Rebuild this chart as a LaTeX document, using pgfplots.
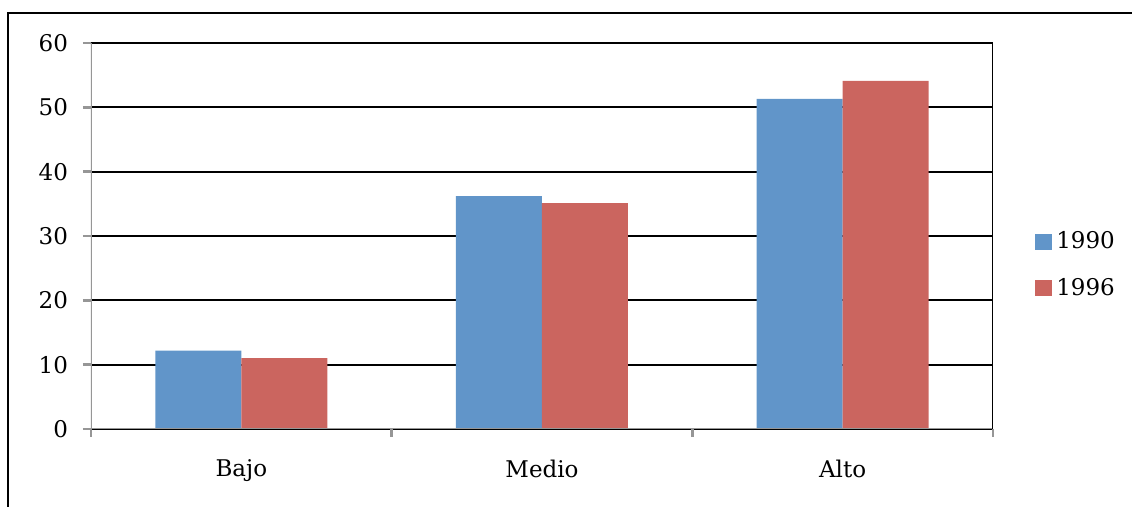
\documentclass[border=0pt]{standalone}
\usepackage{pgfplots}
\pgfplotsset{compat=1.18}
\usepackage{fontspec}
\setmainfont{DejaVu Serif}
\definecolor{c1990}{RGB}{97,149,201}
\definecolor{c1996}{RGB}{203,101,95}
\definecolor{axgray}{RGB}{150,150,150}
\begin{document}
\begin{tikzpicture}
\useasboundingbox (0,0) rectangle (566pt,253.5pt);
\draw[line width=1.2pt] (4pt,0) -- (4pt,247pt) -- (566pt,247pt);
\begin{axis}[
    at={(45.5pt,39pt)}, anchor=south west,
    scale only axis, width=451pt, height=193pt,
    ybar=0pt, bar width=43pt,
    xmin=-0.5, xmax=2.5, ymin=0, ymax=60,
    xtick={0,1,2}, xticklabels={Bajo,Medio,Alto},
    xtick style={draw=none},
    extra x ticks={-0.5,0.5,1.5,2.5},
    extra x tick labels={},
    extra x tick style={xtick style={draw=axgray, line width=1.2pt}, grid=none},
    ytick={0,10,...,60},
    ytick style={draw=axgray, line width=1.2pt},
    xtick pos=bottom, ytick pos=left,
    major tick length=4pt,
    tick align=outside,
    ymajorgrids, major grid style={black, line width=1pt},
    axis line style={draw=none},
    /pgf/number format/assume math mode=true,
    tick label style={font=\fontsize{11.5}{14}\selectfont},
    xticklabel style={yshift=-8pt},
    yticklabel style={xshift=-4pt},
    legend style={draw=none, fill=none, at={(1.04,0.425)}, anchor=west,
        font=\fontsize{11.5}{14}\selectfont, row sep=9pt,
        /tikz/every even column/.append style={column sep=2pt}},
    legend cell align=left,
    legend image code/.code={\fill[#1] (0pt,-4.2pt) rectangle (8.4pt,4.2pt);},
]
\addplot[fill=c1990, draw=none] coordinates {(0,12.2) (1,36.2) (2,51.3)};
\addlegendentry{1990}
\addplot[fill=c1996, draw=none] coordinates {(0,11.0) (1,35.1) (2,54.1)};
\addlegendentry{1996}
\draw[axgray, line width=1.2pt] (rel axis cs:0,1) -- (rel axis cs:0,0) -- (rel axis cs:1,0);
\draw[black, line width=1pt] (rel axis cs:1,0) -- (rel axis cs:1,1);
\end{axis}
\end{tikzpicture}
\end{document}
